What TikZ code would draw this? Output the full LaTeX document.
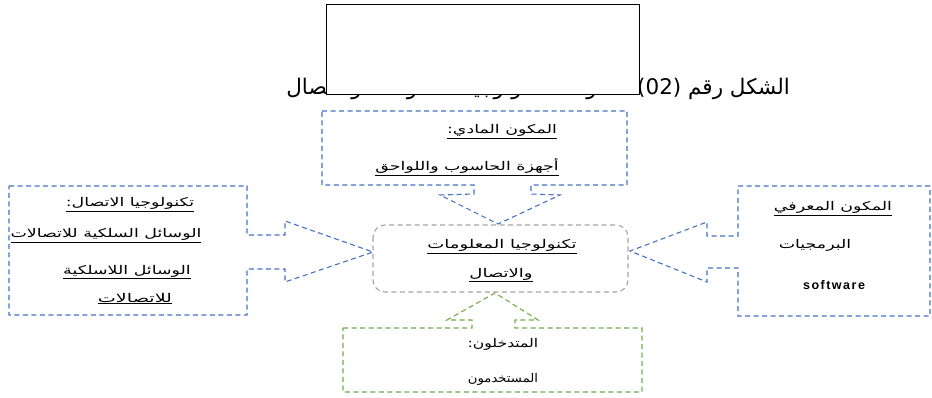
\documentclass[tikz,border=0pt]{standalone}
\usepackage{graphicx}
\usepackage{fontspec}
\newfontfamily\arabicfont[Script=Arabic]{DejaVu Sans}
\newfontfamily\swfont[LetterSpace=12]{Liberation Sans}
\TeXXeTstate=1
\definecolor{cblue}{HTML}{4472C4}
\definecolor{cgreen}{HTML}{70AD47}
\definecolor{cgray}{HTML}{A5A5A5}
\newcommand{\ultx}[2][1.45]{\scalebox{#1}[1]{\underline{\beginR #2\endR}}}
\newcommand{\pltx}[2][1.2]{\scalebox{#1}[1]{\beginR #2\endR}}
\tikzset{
  callout/.style={line width=1.1pt, dash pattern=on 5pt off 3.5pt, line join=miter},
  bluecall/.style={callout, draw=cblue},
  greencall/.style={callout, draw=cgreen},
  centerbox/.style={draw=cgray, line width=1.1pt, dash pattern=on 5pt off 3.5pt, rounded corners=12pt},
  artx/.style={font=\arabicfont\fontsize{12}{14}\selectfont, inner sep=0pt, anchor=base},
  swtx/.style={font=\swfont\bfseries\fontsize{12.5}{14}\selectfont, inner sep=0pt, anchor=base},
  titletx/.style={font=\arabicfont\fontsize{21.5}{26}\selectfont, inner sep=0pt, anchor=base east},
}
\begin{document}
\begin{tikzpicture}[x=1pt,y=-1pt]
\useasboundingbox (0,0) rectangle (932,398);
% title
\node[titletx] (title) at (790,95) {\beginR الشكل رقم \beginL(02)\endL: مكونات تكنولوجيا المعلومات والاتصال\endR};
\draw[fill=white, draw=black, line width=0.8pt] (326,4) rectangle (639,94);
% center
\draw[centerbox] (373,225) rectangle (628,292);
\node[artx] (c1) at (502,249) {\ultx[1.5]{تكنولوجيا المعلومات}};
\node[artx] (c2) at (501,277) {\ultx[1.5]{والاتصال}};
% top callout
\draw[bluecall] (322,111) -- (627,111) -- (627,185) -- (531,185) -- (531,194) -- (560,195)
  -- (498,224) -- (440,195) -- (474,194) -- (474,185) -- (322,185) -- cycle;
\node[artx] (t1) at (502,134) {\ultx{المكون المادي:}};
\node[artx] (t2) at (467,171) {\ultx{أجهزة الحاسوب واللواحق}};
% left callout
\draw[bluecall] (9,186) -- (247,186) -- (247,235) -- (285,235) -- (285,221) -- (373,252)
  -- (285,282) -- (285,269) -- (247,269) -- (247,315) -- (9,315) -- cycle;
\node[artx] (l1) at (130,207) {\ultx{تكنولوجيا الاتصال:}};
\node[artx] (l2) at (106,238) {\ultx{الوسائل السلكية للاتصالات}};
\node[artx] (l3) at (127,274) {\ultx{الوسائل اللاسلكية}};
\node[artx] (l4) at (135,302) {\ultx[1.6]{للاتصالات}};
% right callout
\draw[bluecall] (930,186) -- (738,186) -- (738,236) -- (707,236) -- (707,222) -- (630,251)
  -- (707,282) -- (707,268) -- (738,268) -- (738,316) -- (930,316) -- cycle;
\node[artx] (r1) at (833,211) {\ultx{المكون المعرفي}};
\node[artx] (r2) at (815,249) {\pltx[1.45]{البرمجيات}};
\node[swtx] (r3) at (834,289) {software};
% bottom callout
\draw[greencall] (343,328) -- (472,328) -- (472,320) -- (447,320) -- (495,293) -- (538,320)
  -- (515,320) -- (515,328) -- (642,328) -- (642,392) -- (343,392) -- cycle;
\node[artx] (b1) at (503,347) {\pltx[1.3]{المتدخلون:}};
\node[artx] (b2) at (503,382) {\pltx[1.1]{المستخدمون}};
\end{tikzpicture}
\end{document}
